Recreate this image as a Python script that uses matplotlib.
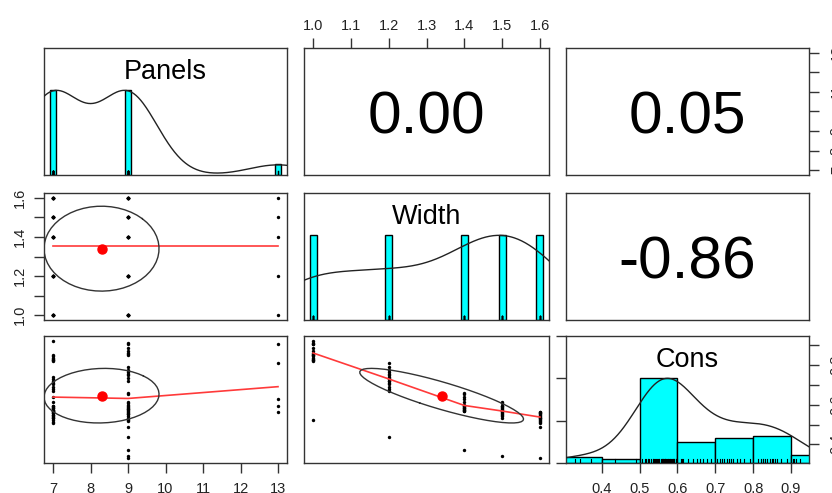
import numpy as np
import matplotlib
matplotlib.use('Agg')
import matplotlib.pyplot as plt

plt.rcParams['font.family'] = ['Liberation Sans', 'DejaVu Sans']

# ---------------- data ----------------
var_names = ['Panels', 'Width', 'Cons']
panel_levels = [7, 9, 13]
width_levels = [1.0, 1.2, 1.4, 1.5, 1.6]

# Cons values, one row per width level
cons_p7 = [
    [0.924, 0.827, 0.851, 0.845, 0.838, 0.832, 0.826, 0.821],
    [0.668, 0.742, 0.731, 0.722, 0.712, 0.705, 0.689, 0.678],
    [0.568, 0.641, 0.612, 0.596, 0.588, 0.581, 0.574, 0.566],
    [0.541, 0.592, 0.583, 0.574, 0.566, 0.558, 0.546, 0.534],
    [0.565, 0.556, 0.548, 0.539, 0.531, 0.522, 0.514, 0.507],
]
cons_p9 = [
    [0.914, 0.905, 0.889, 0.874, 0.862, 0.853, 0.858, 0.523],
    [0.792, 0.776, 0.765, 0.748, 0.736, 0.718, 0.758, 0.435],
    [0.652, 0.598, 0.592, 0.585, 0.578, 0.571, 0.659, 0.371],
    [0.608, 0.589, 0.579, 0.569, 0.561, 0.552, 0.615, 0.342],
    [0.559, 0.551, 0.543, 0.534, 0.526, 0.518, 0.489, 0.329],
]
cons_p13 = [0.907, 0.813, 0.629, 0.595, 0.562]

ticks_panels = [7, 8, 9, 10, 11, 12, 13]
ticks_width = [1.0, 1.1, 1.2, 1.3, 1.4, 1.5, 1.6]
ticks_cons = [0.4, 0.5, 0.6, 0.7, 0.8, 0.9]
lab_panels_right = ['7', '8', '9', '', '11', '', '13']
lab_width_left = ['1.0', '', '1.2', '', '1.4', '', '1.6']
lab_cons_right = ['0.4', '', '0.6', '', '0.8', '']

# build long vectors
P, W, C = [], [], []
for wi, wv in enumerate(width_levels):
    for v in cons_p7[wi]:
        P.append(panel_levels[0]); W.append(wv); C.append(v)
    for v in cons_p9[wi]:
        P.append(panel_levels[1]); W.append(wv); C.append(v)
    P.append(panel_levels[2]); W.append(wv); C.append(cons_p13[wi])
P = np.array(P, float); W = np.array(W, float); C = np.array(C, float)
data = [P, W, C]

# ---------------- helpers ----------------
def rng(x):
    lo, hi = x.min(), x.max()
    d = hi - lo
    return lo - 0.04 * d, hi + 0.04 * d

def kde(x, adjust=1.2):
    n = len(x)
    q1, q3 = np.percentile(x, [25, 75])
    bw = 1.06 * min(np.std(x, ddof=1), (q3 - q1) / 1.34) * n ** (-0.2) * adjust
    g = np.linspace(x.min() - 3 * bw, x.max() + 3 * bw, 512)
    d = np.exp(-0.5 * ((g[:, None] - x[None, :]) / bw) ** 2).sum(1)
    return g, d / d.max()

def lowess(x, y, f=2/3, iters=3):
    o = np.argsort(x, kind='stable')
    x = x[o]; y = y[o]
    n = len(x)
    ns = max(min(int(f * n + 1e-7), n), 2)
    xr = x.max() - x.min()
    rw = np.ones(n)
    ux = np.unique(x)
    fit = np.zeros(n)
    for it in range(iters + 1):
        fu = {}
        for xs in ux:
            r = np.abs(x - xs)
            h = np.sort(r)[ns - 1]
            w = np.zeros(n)
            m = r <= 0.999 * h
            w[m] = np.where(r[m] <= 0.001 * h, 1.0, (1 - (r[m] / h) ** 3) ** 3) if h > 0 else 1.0
            w *= rw
            if w.sum() <= 0:
                fu[xs] = y[x == xs].mean(); continue
            w = w / w.sum()
            a = (w * x).sum()
            b = xs - a
            c = (w * (x - a) ** 2).sum()
            if np.sqrt(c) > 0.001 * xr:
                b /= c
                w = w * (b * (x - a) + 1.0)
            fu[xs] = (w * y).sum()
        fit = np.array([fu[v] for v in x])
        if it == iters:
            break
        res = np.abs(y - fit)
        cmad = 6 * np.median(res)
        if cmad < 1e-7 * np.mean(np.abs(y)):
            break
        rr = res / cmad
        rw = np.where(rr <= 0.001, 1.0, np.where(rr > 0.999, 0.0, (1 - rr ** 2) ** 2))
    return x, fit

# ---------------- layout ----------------
FW, FH = 832, 493
fig = plt.figure(figsize=(FW / 100, FH / 100), dpi=100)
lefts = [44, 304, 566]
widths = [243, 245, 243]
tops = [48, 193, 336]
heights = [127, 127, 127]

frame_col = '#333333'
txt_col = '#222222'
tick_fs = 10.5
cor_fs = 43.5
lab_fs = 19.5
PX = 100 / 72.0

def make_ax(i, j):
    l, w = lefts[j], widths[j]
    t, h = tops[i], heights[i]
    ax = fig.add_axes([l / FW, 1 - (t + h) / FH, w / FW, h / FH])
    for s in ax.spines.values():
        s.set_color(frame_col); s.set_linewidth(1.0)
    ax.tick_params(which='both', bottom=False, top=False, left=False, right=False,
                   labelbottom=False, labeltop=False, labelleft=False, labelright=False,
                   direction='out', length=7, width=1, color=frame_col,
                   labelsize=tick_fs, labelcolor=txt_col)
    return ax

lims = [rng(d) for d in data]

axes = {}
for i in range(3):
    for j in range(3):
        ax = make_ax(i, j)
        axes[(i, j)] = ax
        x = data[j]; y = data[i]
        hpx = heights[i]
        ax.set_xlim(*lims[j])
        if i == j:
            ax.set_ylim(0, 1.5)
            vals, cnts = np.unique(x, return_counts=True)
            if len(vals) < 11:
                hw = 0.0155 * (x.max() - x.min())
                ax.bar(vals, cnts / cnts.max(), width=2 * hw, color='cyan',
                       edgecolor='black', linewidth=1.0, zorder=2)
            else:
                edges = np.round(np.arange(np.floor(x.min() * 10) / 10,
                                           np.ceil(x.max() * 10) / 10 + 0.05, 0.1), 2)
                cnt, edges = np.histogram(x, bins=edges)
                ax.bar(edges[:-1], cnt / cnt.max(), width=np.diff(edges), align='edge',
                       color='cyan', edgecolor='black', linewidth=1.0, zorder=2)
            g, d = kde(x)
            ax.plot(g, d, color='#222222', lw=1.0, zorder=3)
            for v in x:
                ax.plot([v, v], [0, 0.045], color='black', lw=0.8, zorder=4)
            yb = 0.833 - (0.358 * lab_fs * PX) / hpx
            ax.text(0.5, yb, var_names[i], transform=ax.transAxes, ha='center',
                    va='baseline', fontsize=lab_fs, color='black')
        elif i < j:
            ax.set_ylim(*lims[i])
            r = np.corrcoef(x, y)[0, 1]
            s = f"{r:.2f}"
            if s == '-0.00':
                s = '0.00'
            yb = 0.5 - (0.358 * cor_fs * PX) / hpx
            ax.text(0.5, yb, s, transform=ax.transAxes, ha='center', va='baseline',
                    fontsize=cor_fs, color='black')
        else:
            ax.set_ylim(*lims[i])
            ax.scatter(x, y, s=6, color='black', marker='o', linewidths=0, zorder=2)
            lx, ly = lowess(x, y)
            ax.plot(lx, ly, color='#ff3a3a', lw=1.2, zorder=3)
            r = np.corrcoef(x, y)[0, 1]
            xm, ym = x.mean(), y.mean()
            xs, ys = x.std(ddof=1), y.std(ddof=1)
            ang = np.arange(52) * 2 * np.pi / 51
            th = (np.sign(r) if abs(r) > 0 else 1.0) / np.sqrt(2)
            cc, ss = np.cos(ang), np.sin(ang)
            ex = cc * np.sqrt(1 + r) * th - ss * np.sqrt(1 - r) * th
            ey = cc * np.sqrt(1 + r) * th + ss * np.sqrt(1 - r) * th
            ax.plot(ex * xs + xm, ey * ys + ym, color='#333333', lw=1.0, zorder=4)
            ax.plot([xm], [ym], 'o', color='red', ms=6.5, mec='red', zorder=5)

# ---------------- axes ----------------
# column 1 bottom (Panels)
ax = axes[(2, 0)]
ax.set_xticks(ticks_panels)
ax.set_xticklabels([str(t) for t in ticks_panels])
ax.tick_params(axis='x', bottom=True, labelbottom=True, pad=7)

# column 2 top (Width)
ax = axes[(0, 1)]
ax.set_xticks(ticks_width)
ax.set_xticklabels([f"{t:.1f}" for t in ticks_width])
ax.tick_params(axis='x', top=True, labeltop=True, pad=4)

# column 3 bottom (Cons)
ax = axes[(2, 2)]
ax.set_xticks(ticks_cons)
ax.set_xticklabels([f"{t:.1f}" for t in ticks_cons])
ax.tick_params(axis='x', bottom=True, labelbottom=True, pad=7)

# row 2 left (Width)
ax = axes[(1, 0)]
ax.set_yticks(ticks_width)
ax.set_yticklabels(lab_width_left)
ax.tick_params(axis='y', left=True, labelleft=True, pad=5, labelrotation=90)
for lb in ax.get_yticklabels():
    lb.set_va('center')

# row 1 right (Panels)
ax = axes[(0, 2)]
ax.set_yticks(ticks_panels)
ax.set_yticklabels(lab_panels_right)
ax.tick_params(axis='y', right=True, labelright=True, pad=8, labelrotation=90)
for lb in ax.get_yticklabels():
    lb.set_va('center')

# row 3 right (Cons)
ax = axes[(2, 2)]
ax2 = ax.twinx()
ax2.set_ylim(*lims[2])
for s in ax2.spines.values():
    s.set_visible(False)
ax2.set_yticks(ticks_cons)
ax2.set_yticklabels(lab_cons_right)
ax2.tick_params(axis='y', right=True, labelright=True, left=False, labelleft=False,
                direction='out', length=7, width=1, color=frame_col, labelsize=tick_fs,
                labelcolor=txt_col, pad=8, labelrotation=90)
for lb in ax2.get_yticklabels():
    lb.set_va('center')

fig.savefig('out.png', dpi=100)
